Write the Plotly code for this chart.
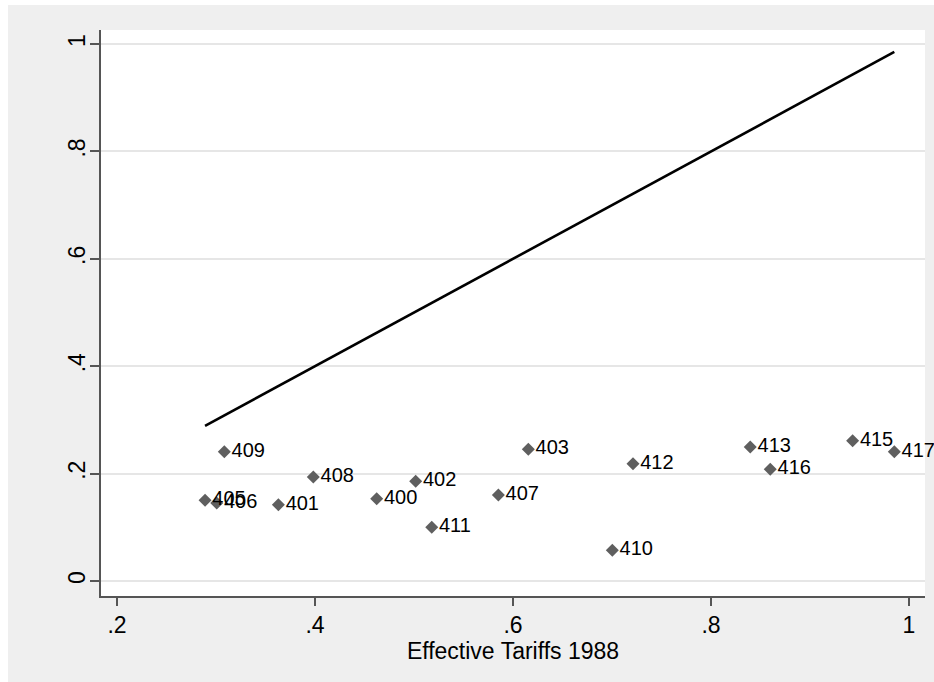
import plotly.graph_objects as go

# Industry codes with their 1988 effective tariffs (x) and the later tariff level (y)
codes = ["400", "401", "402", "403", "405", "406", "407", "408",
         "409", "410", "411", "412", "413", "415", "416", "417"]
tariff_1988 = [0.4623, 0.3630, 0.5017, 0.6155, 0.2889, 0.3007, 0.5852, 0.3983,
               0.3084, 0.7003, 0.5179, 0.7212, 0.8397, 0.9431, 0.8599, 0.9852]
tariff_later = [0.1533, 0.1421, 0.1856, 0.2452, 0.1503, 0.1453, 0.1601, 0.1937,
                0.2408, 0.0571, 0.1000, 0.2185, 0.2495, 0.2613, 0.2080, 0.2408]

x_ticks = [0.2, 0.4, 0.6, 0.8, 1.0]
x_tick_labels = [".2", ".4", ".6", ".8", "1"]
y_ticks = [0.0, 0.2, 0.4, 0.6, 0.8, 1.0]
y_tick_labels = ["0", ".2", ".4", ".6", ".8", "1"]

# 45-degree line spanning the observed range of 1988 tariffs
diag = [min(tariff_1988), max(tariff_1988)]

FONT = "Liberation Sans, Arial, sans-serif"
W, H = 934, 682
ML, MR, MT, MB = 101, 9, 30, 86
PW, PH = W - ML - MR, H - MT - MB

fig = go.Figure()

fig.add_trace(go.Scatter(
    x=diag, y=diag, mode="lines",
    line=dict(color="black", width=2.6),
    showlegend=False, hoverinfo="skip",
))

fig.add_trace(go.Scatter(
    x=tariff_1988, y=tariff_later, mode="markers+text",
    text=codes, textposition="middle right",
    textfont=dict(family=FONT, size=20, color="black"),
    marker=dict(symbol="diamond", size=10, color="#5f5f5f", line=dict(width=0)),
    cliponaxis=False, showlegend=False,
))


def px_to_paper_x(px):
    return (px - ML) / PW


def px_to_paper_y(py):
    return (H - MB - py) / PH


# white outer strips on the left and top edge of the page
shapes = [
    dict(type="rect", xref="paper", yref="paper", layer="below",
         x0=px_to_paper_x(-2), x1=px_to_paper_x(8),
         y0=px_to_paper_y(H + 2), y1=px_to_paper_y(-2),
         fillcolor="white", line=dict(width=0)),
    dict(type="rect", xref="paper", yref="paper", layer="below",
         x0=px_to_paper_x(-2), x1=px_to_paper_x(W + 2),
         y0=px_to_paper_y(5), y1=px_to_paper_y(-2),
         fillcolor="white", line=dict(width=0)),
]

fig.update_layout(
    width=W, height=H,
    margin=dict(l=ML, r=MR, t=MT, b=MB, pad=0),
    paper_bgcolor="#efefef",
    plot_bgcolor="white",
    font=dict(family=FONT, size=23, color="black"),
    shapes=shapes,
    xaxis=dict(
        range=[0.1838, 1.0162],
        tickvals=x_ticks, ticktext=x_tick_labels,
        ticks="outside", ticklen=8, tickwidth=1.5, tickcolor="#555555",
        showline=True, linecolor="#555555", linewidth=1.5,
        showgrid=False, zeroline=False,
        tickfont=dict(family=FONT, size=23, color="black"),
        title=dict(text="Effective Tariffs 1988",
                   font=dict(family=FONT, size=23, color="black"),
                   standoff=0),
    ),
    yaxis=dict(
        range=[-0.0279, 1.0261],
        tickvals=y_ticks, ticktext=y_tick_labels,
        tickangle=-90,
        ticks="outside", ticklen=9, tickwidth=1.5, tickcolor="#555555",
        showline=True, linecolor="#555555", linewidth=1.5,
        showgrid=True, gridcolor="#e6e6e6", gridwidth=2,
        zeroline=False,
        tickfont=dict(family=FONT, size=23, color="black"),
        ticklabelstandoff=-4,
    ),
)

fig.write_html("out.html")
